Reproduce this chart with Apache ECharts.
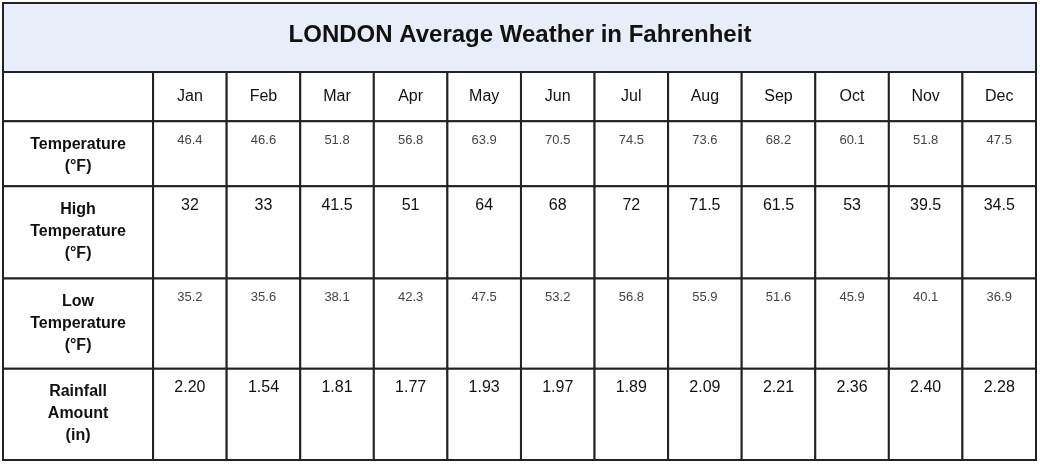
<!DOCTYPE html>
<html><head><meta charset="utf-8">
<script src="https://cdn.jsdelivr.net/npm/echarts@6/dist/echarts.min.js"></script>
<style>html,body{margin:0;padding:0;background:#fff}#c{width:1040px;height:464px}</style>
</head><body><div id="c"></div>
<script>
const months = ['Jan','Feb','Mar','Apr','May','Jun','Jul','Aug','Sep','Oct','Nov','Dec'];
const rowLabels = ['Temperature\n(°F)','High\nTemperature\n(°F)','Low\nTemperature\n(°F)','Rainfall\nAmount\n(in)'];
const temperature = ['46.4','46.6','51.8','56.8','63.9','70.5','74.5','73.6','68.2','60.1','51.8','47.5'];
const highTemp = ['32','33','41.5','51','64','68','72','71.5','61.5','53','39.5','34.5'];
const lowTemp = ['35.2','35.6','38.1','42.3','47.5','53.2','56.8','55.9','51.6','45.9','40.1','36.9'];
const rainfall = ['2.20','1.54','1.81','1.77','1.93','1.97','1.89','2.09','2.21','2.36','2.40','2.28'];
const rows = [temperature, highTemp, lowTemp, rainfall];

const colW = [2.04].concat(months.map(()=>1));
const rowH = [49, 65, 92, 90, 91];
const colEdge=[0]; colW.forEach(w=>colEdge.push(colEdge[colEdge.length-1]+w));
const rowEdge=[0]; rowH.forEach(h=>rowEdge.push(rowEdge[rowEdge.length-1]+h));
const bigRow = [false,true,false,true];

const cells=[];
cells.push([0,0,'',0]);
months.forEach((m,i)=>cells.push([i+1,0,m,1]));
rows.forEach((r,ri)=>{
  cells.push([0,ri+1,rowLabels[ri],2]);
  r.forEach((v,i)=>cells.push([i+1,ri+1,v,bigRow[ri]?1:3]));
});
const styles={
 0:{fontSize:16,color:'#111',fontWeight:'normal'},
 1:{fontSize:16,color:'#111',fontWeight:'normal'},
 2:{fontSize:16,color:'#111',fontWeight:'bold'},
 3:{fontSize:13,color:'#444',fontWeight:'normal'}
};
const chart=echarts.init(document.getElementById('c'));
chart.setOption({
 animation:false,
 title:{text:'LONDON Average Weather in Fahrenheit',left:'center',top:18,
   textStyle:{fontSize:24,fontWeight:'bold',color:'#111',fontFamily:'Liberation Sans'}},
 graphic:[{type:'rect',z:-1,shape:{x:3,y:3,width:1033,height:69},style:{fill:'#e8eef9',stroke:'#222',lineWidth:2}}],
 grid:{left:3,right:4,top:72,bottom:4},
 xAxis:{type:'value',min:0,max:colEdge[colEdge.length-1],show:false},
 yAxis:{type:'value',min:0,max:rowEdge[rowEdge.length-1],inverse:true,show:false},
 series:[{type:'custom',data:cells,
  renderItem:(p,api)=>{
   const c=api.value(0), r=api.value(1), k=api.value(3);
   const d=cells[p.dataIndex];
   const a=api.coord([colEdge[c],rowEdge[r]]), b=api.coord([colEdge[c+1],rowEdge[r+1]]);
   const s=styles[k];
   const textY = r===0 ? (a[1]+b[1])/2 : a[1]+ (k===2?12:10);
   return {type:'group',children:[
    {type:'rect',shape:{x:a[0],y:a[1],width:b[0]-a[0],height:b[1]-a[1]},style:{fill:'#fff',stroke:'#222',lineWidth:2}},
    {type:'text',style:{x:(a[0]+b[0])/2,y:textY,text:d[2],align:'center',verticalAlign:r===0?'middle':'top',
      fontSize:s.fontSize,fontWeight:s.fontWeight,fill:s.color,fontFamily:'Liberation Sans',lineHeight:k===2?22:18}}
   ]};
  }}]
});
</script></body></html>
